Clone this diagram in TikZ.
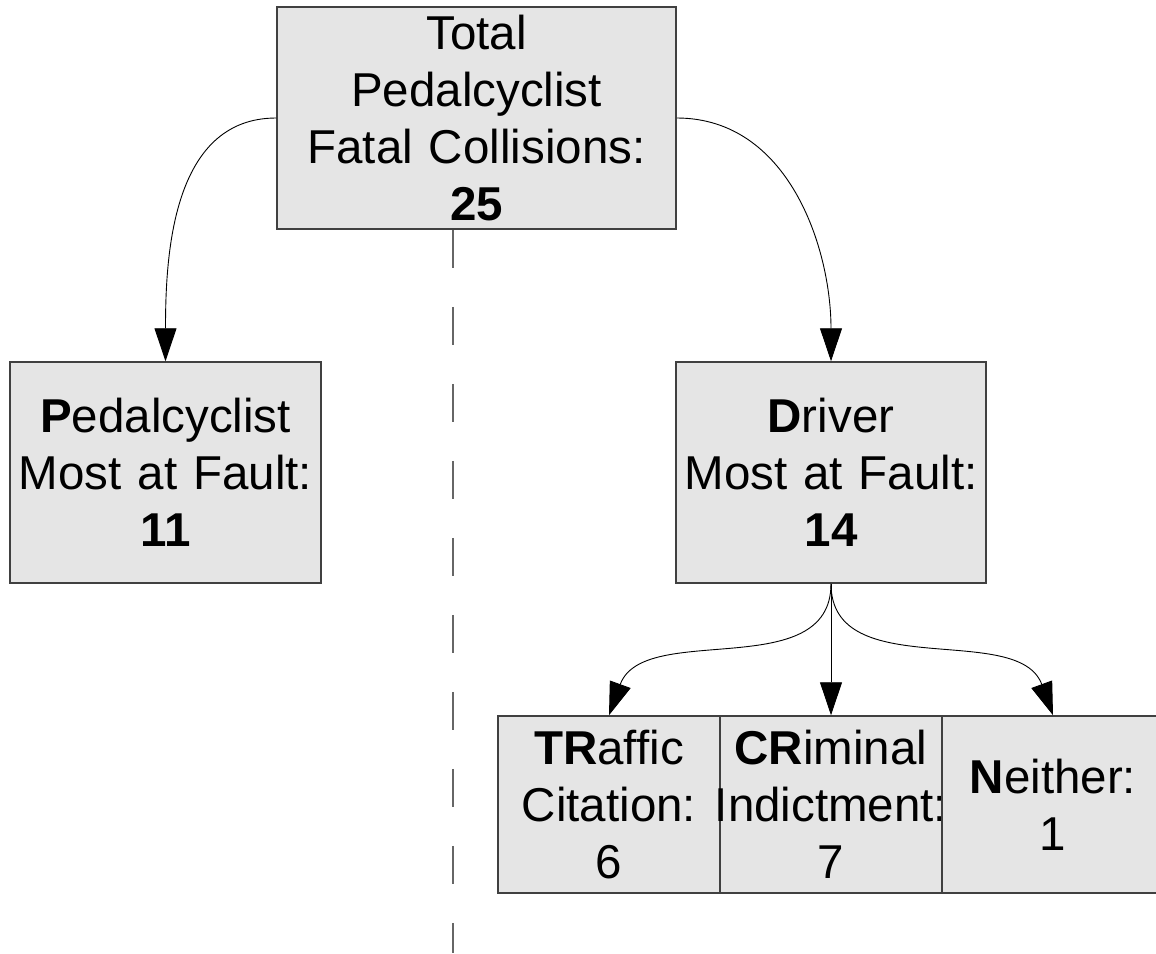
\documentclass[tikz,border=0pt]{standalone}
\usepackage{fontspec}
\setmainfont{Liberation Sans}
\usetikzlibrary{arrows.meta}

\begin{document}
\begin{tikzpicture}[x=1pt,y=1pt,
    box/.style={draw=black!75,fill=black!10,line width=1.5pt,inner sep=0pt,align=center,font=\fontsize{47.5}{57}\selectfont},
    con/.style={-{Triangle[length=33pt,width=22pt]},line width=0.9pt},
    split/.style={draw=black!60,line width=1.5pt,dash pattern=on 38pt off 39pt}]
                      \useasboundingbox (0,0) rectangle (1156,-953);

                      \node[box,text width=399pt,minimum height=222pt] (total) at (476.5,-118) {Total\\Pedalcyclist\\Fatal Collisions:\\\textbf{25}};
                      \node[box,text width=311pt,minimum height=221pt] (pedal) at (165.5,-472.5) {\textbf{P}edalcyclist\\Most at Fault:\\\textbf{11}};
                      \node[box,text width=310pt,minimum height=221pt] (driver) at (831,-472.5) {\textbf{D}river\\Most at Fault:\\\textbf{14}};

                      \node[box,text width=222pt,minimum height=177pt] (traffic) at (609,-804.5) {\textbf{TR}affic\\Citation:\\6};
                      \node[box,text width=222pt,minimum height=177pt] (criminal) at (831,-804.5) {\textbf{CR}iminal\\\makebox[222pt]{Indictment:}\\7};
                      \node[box,text width=222pt,minimum height=177pt] (neither) at (1053,-804.5) {\textbf{N}either:\\1};

                      \coordinate (cuttop) at ([xshift=-23.5pt]total.south);
                      \coordinate (cutbot) at (cuttop |- 0,-953);
                      \draw[split] (cuttop) -- (cutbot);

                      \draw[con] (total.west) to[out=180,in=90] (pedal.north);
                      \draw[con] (total.east) to[out=0,in=90] (driver.north);
                      \draw[con] (driver.south) to[out=-90,in=70] (traffic.north);
                      \draw[con] (driver.south) -- (criminal.north);
                      \draw[con] (driver.south) to[out=-90,in=110] (neither.north);
                    \end{tikzpicture}
\end{document}
